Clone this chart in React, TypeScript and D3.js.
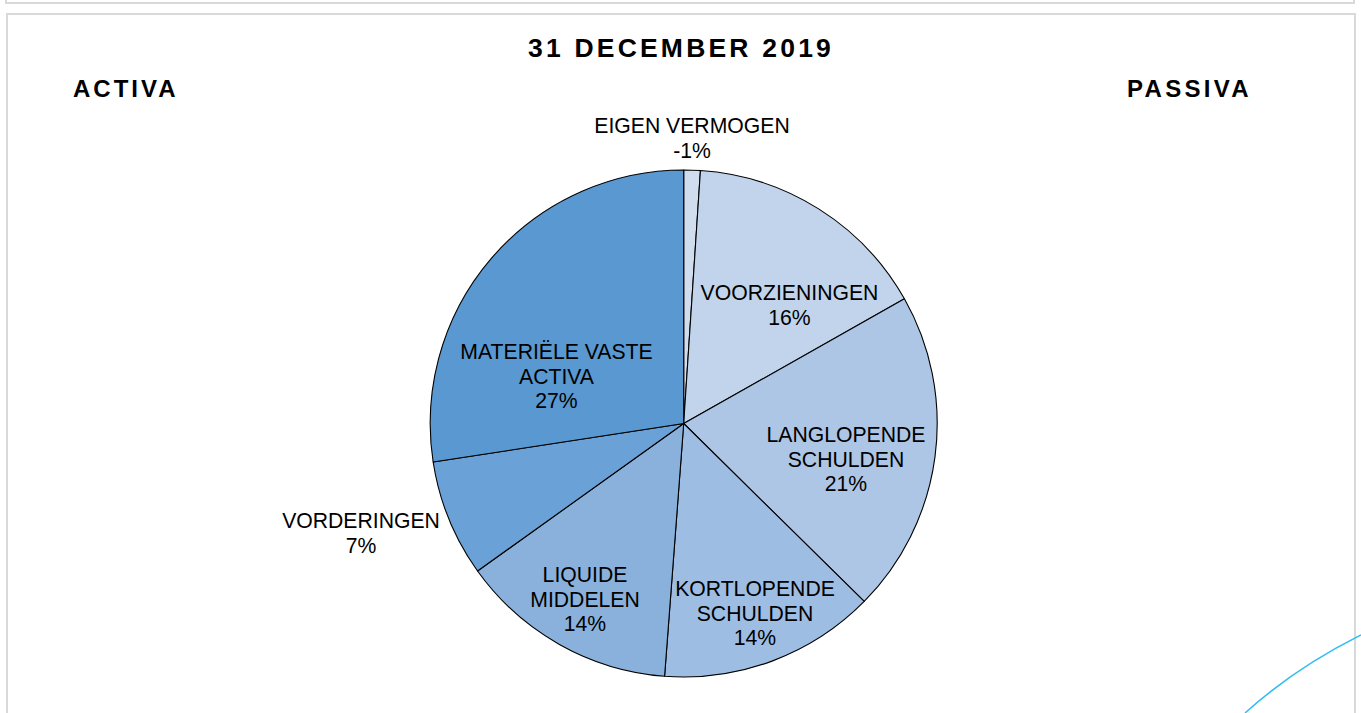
import React from "react";
import * as d3 from "d3";

// ---- data ----
const categories = [
  "EIGEN VERMOGEN",
  "VOORZIENINGEN",
  "LANGLOPENDE SCHULDEN",
  "KORTLOPENDE SCHULDEN",
  "LIQUIDE MIDDELEN",
  "VORDERINGEN",
  "MATERIËLE VASTE ACTIVA",
];
const values = [-1.05, 15.75, 20.55, 13.8, 13.9, 7.45, 27.4]; // percentages
const labelLines = [
  ["EIGEN VERMOGEN"],
  ["VOORZIENINGEN"],
  ["LANGLOPENDE", "SCHULDEN"],
  ["KORTLOPENDE", "SCHULDEN"],
  ["LIQUIDE", "MIDDELEN"],
  ["VORDERINGEN"],
  ["MATERIËLE VASTE", "ACTIVA"],
];
const title = "31 DECEMBER 2019";
const leftHeading = "ACTIVA";
const rightHeading = "PASSIVA";

// ---- styles / layout ----
const colors = ["#d0ddef", "#c1d4eb", "#aec6e5", "#9ebde2", "#89b1dc", "#6aa1d6", "#5998d0"];
// label block: center x, first baseline y (absolute)
const labelLayout: [number, number][] = [
  [692, 133],
  [789.5, 300],
  [846, 442],
  [755, 596],
  [585, 582],
  [361, 528],
  [556.5, 359],
];
const CX = 683.7;
const CY = 423.5;
const R = 253.5;
const LINE = 24.5;

export default function App() {
  const pie = d3
    .pie<number>()
    .sort(null)
    .value((d) => Math.abs(d))
    .startAngle(0)
    .endAngle(2 * Math.PI);
  const arcs = pie(values);
  const arc = d3.arc<d3.PieArcDatum<number>>().innerRadius(0).outerRadius(R);

  return (
    <svg
      width={1361}
      height={713}
      style={{ position: "fixed", left: 0, top: 0, background: "#fff" }}
      fontFamily="'Liberation Sans', Arial, sans-serif"
    >
      <rect x={0} y={0} width={1361} height={713} fill="#fff" />
      {/* frames */}
      <rect x={6} y={-30} width={1348} height={33} fill="none" stroke="#d9d9d9" strokeWidth={2} />
      <rect x={7} y={14} width={1348} height={760} fill="none" stroke="#d9d9d9" strokeWidth={2} />

      <text x={528} y={57} fontSize={26.5} fontWeight="bold" letterSpacing={3.2} fill="#000">
        {title}
      </text>
      <text x={73} y={97} fontSize={24} fontWeight="bold" letterSpacing={3.0} fill="#000">
        {leftHeading}
      </text>
      <text x={1127} y={97} fontSize={24} fontWeight="bold" letterSpacing={3.3} fill="#000">
        {rightHeading}
      </text>

      <g transform={`translate(${CX},${CY})`}>
        {arcs.map((a, i) => (
          <path
            key={categories[i]}
            d={arc(a) || ""}
            fill={colors[i]}
            stroke="#000"
            strokeWidth={1.1}
            strokeLinejoin="round"
          />
        ))}
      </g>

      {labelLines.map((lines, i) => {
        const [lx, ly] = labelLayout[i];
        const pct = `${Math.round(values[i])}%`;
        const all = [...lines, pct];
        return (
          <text key={categories[i]} textAnchor="middle" fontSize={21.2} fill="#000">
            {all.map((t, j) => (
              <tspan key={j} x={lx} y={ly + j * LINE}>
                {t}
              </tspan>
            ))}
          </text>
        );
      })}

      <path d="M1245,713 Q1295,668 1361,635" fill="none" stroke="#33bdf2" strokeWidth={1.5} />
    </svg>
  );
}
